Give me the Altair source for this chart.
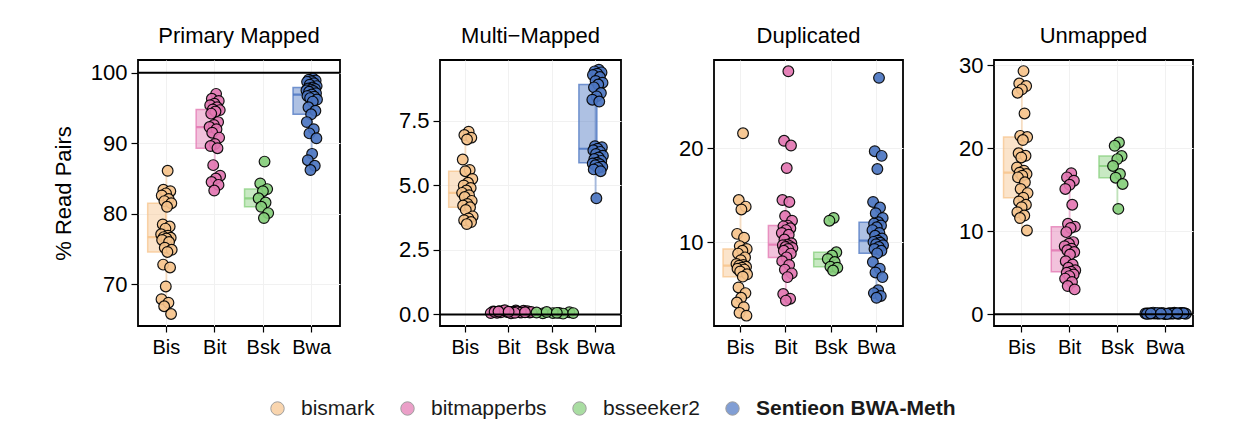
import altair as alt
import pandas as pd

TOOLS = ["bismark", "bitmapperbs", "bsseeker2", "Sentieon BWA-Meth"]
ABBR = ["Bis", "Bit", "Bsk", "Bwa"]
COLORS = ["#F7C48C", "#E377B2", "#86CF7B", "#4C76C2"]
PANELS = ["Primary Mapped", "Multi\u2212Mapped", "Duplicated", "Unmapped"]

primary_bis = [86.1, 83.4, 83.2, 82.9, 82.6, 82.1, 81.8, 81.5, 81.0, 78.5, 78.2, 77.9, 77.1, 76.9, 76.7,
               76.6, 76.5, 76.3, 76.0, 75.2, 74.9, 74.6, 72.8, 72.4, 69.7, 67.9, 67.4, 66.9, 65.8]
primary_bit = [97.0, 96.3, 96.0, 95.6, 95.4, 95.1, 94.8, 94.7, 94.5, 94.2, 93.0, 92.6, 92.3, 92.0, 91.5,
               90.8, 89.9, 89.6, 89.3, 86.9, 85.4, 85.0, 84.5, 84.1, 83.3]
primary_bsk = [87.4, 84.3, 83.5, 83.2, 82.2, 81.6, 81.0, 80.1, 79.4]
primary_bwa = [99.2, 99.0, 98.9, 98.8, 98.7, 98.5, 98.3, 98.1, 97.9, 97.75, 97.7, 97.6, 97.5, 97.4, 97.3,
               97.1, 96.9, 96.7, 96.6, 96.4, 96.2, 95.9, 95.1, 94.6, 94.1, 93.0, 92.0, 91.4, 90.7, 88.5,
               87.6, 86.8, 86.2]

multi_bis = [7.08, 6.95, 6.85, 6.78, 6.00, 5.60, 5.55, 5.25, 5.10, 5.00, 4.90, 4.80, 4.71, 4.62, 4.55,
             4.40, 4.28, 4.22, 4.15, 4.05, 3.80, 3.72, 3.65, 3.58, 3.50]
multi_bit = [0.15, 0.12, 0.10, 0.09, 0.11, 0.08, 0.13, 0.07, 0.10, 0.06, 0.14, 0.09, 0.05, 0.11, 0.08,
             0.12, 0.04, 0.10, 0.07, 0.16, 0.09, 0.06, 0.11, 0.08, 0.10]
multi_bsk = [0.06, 0.04, 0.08, 0.05, 0.07, 0.03, 0.09, 0.05, 0.06]
multi_bwa = [9.48, 9.42, 9.38, 9.33, 9.28, 9.20, 9.05, 8.98, 8.91, 8.80, 8.58, 8.45, 8.32, 8.25, 6.52,
             6.48, 6.42, 6.36, 6.30, 6.22, 6.15, 6.08, 6.02, 5.95, 5.88, 5.85, 5.82, 5.78, 5.72, 5.68,
             5.62, 5.55, 4.50]

dup_bis = [21.6, 14.5, 13.8, 13.5, 10.9, 10.5, 9.6, 9.3, 9.1, 8.8, 8.4, 8.1, 7.7, 7.6, 7.52, 7.4, 7.3,
           7.2, 7.1, 6.9, 6.6, 6.35, 5.2, 4.6, 4.1, 3.6, 3.1, 2.5, 2.2]
dup_bit = [28.2, 20.8, 20.3, 17.9, 14.5, 14.3, 12.8, 12.3, 11.78, 11.7, 11.5, 11.3, 11.0, 10.8, 10.3,
           9.9, 9.76, 9.7, 9.6, 9.5, 9.4, 9.3, 9.1, 8.8, 8.4, 8.0, 7.6, 7.1, 6.7, 6.3, 4.5, 4.0, 3.8]
dup_bsk = [12.6, 12.3, 8.94, 8.6, 8.23, 7.9, 7.41, 7.3, 7.0]
dup_bwa = [27.5, 19.7, 19.2, 17.8, 14.3, 13.7, 13.1, 12.6, 12.13, 12.0, 11.8, 11.6, 11.3, 11.0, 10.7,
           10.4, 10.18, 10.05, 9.95, 9.8, 9.7, 9.5, 9.3, 9.1, 8.83, 7.9, 7.2, 6.8, 6.3, 4.9, 4.6, 4.3, 4.1]

unm_bis = [29.3, 27.8, 27.5, 27.1, 26.7, 24.2, 21.5, 21.36, 21.0, 19.4, 19.1, 18.9, 17.7, 17.3, 17.06,
           16.9, 16.7, 16.5, 15.9, 15.1, 14.6, 14.05, 13.6, 13.2, 12.9, 12.3, 11.9, 11.6, 10.1]
unm_bit = [17.0, 16.5, 16.1, 15.6, 15.1, 13.2, 10.9, 10.56, 10.4, 9.9, 8.7, 8.5, 8.2, 7.9, 7.71, 7.5,
           7.2, 6.4, 6.0, 5.6, 5.3, 5.13, 5.0, 4.8, 4.6, 4.3, 3.9, 3.4, 3.0]
unm_bsk = [20.7, 20.3, 19.07, 18.7, 17.87, 16.9, 16.46, 15.7, 12.7]
unm_bwa = [0.12, 0.08, 0.15, 0.05, 0.10, 0.18, 0.07, 0.13, 0.09, 0.11, 0.06, 0.14, 0.10, 0.08, 0.12,
           0.16, 0.04, 0.09, 0.11, 0.13, 0.07, 0.10, 0.20, 0.08, 0.12, 0.06, 0.09, 0.14, 0.11, 0.05,
           0.10, 0.13, 0.08]

SERIES = {
    PANELS[0]: [primary_bis, primary_bit, primary_bsk, primary_bwa],
    PANELS[1]: [multi_bis, multi_bit, multi_bsk, multi_bwa],
    PANELS[2]: [dup_bis, dup_bit, dup_bsk, dup_bwa],
    PANELS[3]: [unm_bis, unm_bit, unm_bsk, unm_bwa],
}

rows = []
for p, lists in SERIES.items():
    for tool, ab, vals in zip(TOOLS, ABBR, lists):
        for v in vals:
            rows.append({"panel": p, "tool": tool, "abbr": ab, "value": v})
df = pd.DataFrame(rows)

FONT = "Liberation Sans"
PI, PO = 0.23, 0.2
H = 266

LEGEND = alt.Legend(
    title=None, orient="none", legendX=129, legendY=338, direction="horizontal",
    labelFontSize=21, labelFont=FONT, labelColor="#1a1a1a", labelLimit=400,
    symbolType="circle", symbolSize=180, symbolStrokeColor="#777777", symbolStrokeWidth=1,
    symbolOpacity=0.7, labelOffset=13, columnPadding=22, gridAlign="none",
    labelFontWeight=alt.ExprRef("datum.label == 'Sentieon BWA-Meth' ? 'bold' : 'normal'"),
)


def fill_enc():
    return alt.Fill("tool:N", scale=alt.Scale(domain=TOOLS, range=COLORS), legend=LEGEND)


def stroke_enc():
    # reversed domain order keeps this scale's legend separate from the fill legend
    return alt.Stroke("tool:N", scale=alt.Scale(domain=TOOLS[::-1], range=COLORS[::-1]), legend=None)


def panel(key, width, ydom, yticks, yfmt, ref, extent, toff, ytitle=None):
    xsc = alt.Scale(domain=ABBR, paddingInner=PI, paddingOuter=PO)
    xax = alt.Axis(title=None, labelAngle=0, labelFontSize=20, labelFont=FONT, labelColor="black",
                   tickSize=6, tickColor="black", tickWidth=1.2, labelPadding=5, domain=False,
                   grid=True, gridColor="#f1f1f1")
    X = alt.X("abbr:N", scale=xsc, axis=xax, sort=ABBR)
    ysc = alt.Scale(domain=ydom, nice=False, zero=False)
    ykw = dict(values=yticks, format=yfmt, labelFontSize=22, labelFont=FONT, labelColor="black",
               tickSize=7, tickColor="black", tickWidth=1.2, labelPadding=4, domain=False,
               grid=True, gridColor="#f1f1f1", minExtent=extent, maxExtent=extent)
    if ytitle:
        ykw.update(title=ytitle, titleFontSize=22, titleFont=FONT, titleFontWeight="normal",
                   titleColor="black", titlePadding=13)
    else:
        ykw.update(title=None)
    yax = alt.Axis(**ykw)

    def Y(f):
        return alt.Y(f, type="quantitative", scale=ysc, axis=yax)

    base = alt.Chart(df).transform_filter(alt.datum.panel == key)

    whisk = (
        base.transform_joinaggregate(q1="q1(value)", q3="q3(value)", groupby=["tool"])
        .transform_calculate(lo="datum.q1 - 1.5*(datum.q3 - datum.q1)",
                             hi="datum.q3 + 1.5*(datum.q3 - datum.q1)")
        .transform_filter("datum.value >= datum.lo && datum.value <= datum.hi")
        .transform_aggregate(wmin="min(value)", wmax="max(value)", groupby=["tool", "abbr"])
        .mark_rule(strokeWidth=2, opacity=0.45)
        .encode(x=X, y=Y("wmin"), y2="wmax:Q", stroke=stroke_enc())
    )
    stats = base.transform_aggregate(q1="q1(value)", q3="q3(value)", med="median(value)",
                                     groupby=["tool", "abbr"])
    box = stats.mark_bar(fillOpacity=0.45, strokeOpacity=0.75, strokeWidth=1.5).encode(
        x=X, y=Y("q1"), y2="q3:Q", fill=fill_enc(), stroke=stroke_enc())
    med = stats.mark_bar(fillOpacity=0, strokeOpacity=0.85, strokeWidth=2.2).encode(
        x=X, y=Y("med"), y2="med:Q", stroke=stroke_enc())
    rng = ydom[1] - ydom[0]
    pts = (
        base.transform_window(rn="row_number()", groupby=["tool"])
        .transform_joinaggregate(sd="stdev(value)", groupby=["tool"])
        .transform_calculate(
            jit=f"((datum.rn * 0.6180339) % 1 - 0.5) * (datum.sd < {rng * 0.01} ? 2.3 : 0.6)")
        .mark_circle(size=115, stroke="black", strokeWidth=1.2, opacity=0.92)
        .encode(x=X, xOffset=alt.XOffset("jit:Q", scale=alt.Scale(domain=[-1, 1])),
                y=Y("value"), fill=fill_enc())
    )
    layers = [whisk, box, med, pts]
    if ref is not None:
        rule = alt.Chart(pd.DataFrame({"r": [ref]})).mark_rule(color="black", strokeWidth=2).encode(
            y=Y("r"))
        layers.append(rule)
    return alt.layer(*layers).properties(
        width=width, height=H,
        title=alt.TitleParams(key, fontSize=22, font=FONT, fontWeight="normal", color="black",
                              offset=toff, anchor="middle", frame="group"))


p1 = panel(PANELS[0], 202, [64.1, 101.8], [70, 80, 90, 100], "d", 100, 50, 12, "% Read Pairs")
p2 = panel(PANELS[1], 181, [-0.45, 9.86], [0, 2.5, 5, 7.5], ".1f", 0, 56, 12)
p3 = panel(PANELS[2], 189, [1.1, 29.4], [10, 20], "d", None, 49, 12)
p4 = panel(PANELS[3], 199, [-1.41, 30.64], [0, 10, 20, 30], "d", 0, 48, 6)

chart = (
    alt.hconcat(p1, p2, p3, p4, spacing=41)
    .properties(padding={"left": 43, "top": 16, "right": 5, "bottom": 5}, background="white")
    .configure_view(stroke="black", strokeWidth=1.8)
)

chart.save("out.html", embed_options={"renderer": "svg", "actions": False})
